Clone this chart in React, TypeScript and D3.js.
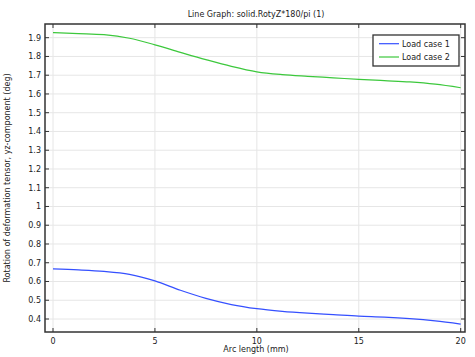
import React from "react";
import * as d3 from "d3";

const title = "Line Graph: solid.RotyZ*180/pi (1)";
const xLabel = "Arc length (mm)";
const yLabel = "Rotation of deformation tensor, yz-component (deg)";
const seriesNames = ["Load case 1", "Load case 2"];
const xTicks = [0, 5, 10, 15, 20];
const yTicks = [0.4, 0.5, 0.6, 0.7, 0.8, 0.9, 1, 1.1, 1.2, 1.3, 1.4, 1.5, 1.6, 1.7, 1.8, 1.9];

const arc1 = [0, 1.25, 2.5, 3.75, 5, 6.25, 7.5, 8.75, 10, 11.25, 12.5, 13.75, 15, 16.25, 17.5, 18.75, 20];
const load1 = [0.667, 0.662, 0.654, 0.638, 0.603, 0.553, 0.51, 0.477, 0.455, 0.441, 0.431, 0.423, 0.415, 0.41, 0.402, 0.39, 0.373];
const load2 = [1.927, 1.922, 1.916, 1.897, 1.862, 1.822, 1.783, 1.747, 1.718, 1.703, 1.694, 1.686, 1.678, 1.671, 1.664, 1.652, 1.633];

const colors = ["#3550ff", "#3cc83c"];
const FONT = "DejaVu Sans, sans-serif";

export default function App() {
  const W = 475, H = 357;
  const left = 45, right = 465, top = 24, bottom = 332;
  const x = d3.scaleLinear().domain([0, 20]).range([53, 460.7]);
  const y = d3.scaleLinear().domain([0.4, 1.9]).range([319, 37.7]);
  const line = d3.line<number>().x((_, i) => x(arc1[i])).y((d) => y(d)).curve(d3.curveMonotoneX);
  const data = [load1, load2];
  return (
    <svg width={W} height={H} style={{ position: "absolute", left: 0, top: 0 }} fontFamily={FONT}>
      <rect width={W} height={H} fill="white" />
      <text x={256} y={17} fontSize={8} textAnchor="middle" fill="#222">{title}</text>
      {xTicks.map((t) => (
        <line key={"gx" + t} x1={x(t)} x2={x(t)} y1={top} y2={bottom} stroke="#e6e6e6" strokeWidth={1} />
      ))}
      {yTicks.map((t) => (
        <line key={"gy" + t} x1={left} x2={right} y1={y(t)} y2={y(t)} stroke="#e6e6e6" strokeWidth={1} />
      ))}
      {data.map((d, i) => (
        <path key={i} d={line(d) || ""} fill="none" stroke={colors[i]} strokeWidth={1.2} />
      ))}
      <rect x={left} y={top} width={right - left} height={bottom - top} fill="none" stroke="#333" strokeWidth={1.5} />
      {xTicks.map((t) => (
        <g key={"tx" + t}>
          <line x1={x(t)} x2={x(t)} y1={bottom} y2={bottom - 4} stroke="#333" />
          <line x1={x(t)} x2={x(t)} y1={top} y2={top + 4} stroke="#333" />
          <text x={x(t)} y={344} fontSize={8} textAnchor="middle" fill="#222">{t}</text>
        </g>
      ))}
      {yTicks.map((t) => (
        <g key={"ty" + t}>
          <line x1={left} x2={left + 4} y1={y(t)} y2={y(t)} stroke="#333" />
          <line x1={right} x2={right - 4} y1={y(t)} y2={y(t)} stroke="#333" />
          <text x={41} y={y(t) + 3} fontSize={8} textAnchor="end" fill="#222">{String(t)}</text>
        </g>
      ))}
      <text x={256} y={352} fontSize={8} textAnchor="middle" fill="#222">{xLabel}</text>
      <text transform={`translate(10,${(top + bottom) / 2}) rotate(-90)`} fontSize={8} textAnchor="middle" fill="#222">{yLabel}</text>
      <rect x={373} y={35} width={86} height={31} fill="white" stroke="#333" strokeWidth={1.3} />
      {seriesNames.map((n, i) => (
        <g key={n}>
          <line x1={379} x2={399} y1={43.7 + i * 13.3} y2={43.7 + i * 13.3} stroke={colors[i]} strokeWidth={1.2} />
          <text x={402} y={43.7 + i * 13.3 + 3} fontSize={8} fill="#222">{n}</text>
        </g>
      ))}
    </svg>
  );
}
